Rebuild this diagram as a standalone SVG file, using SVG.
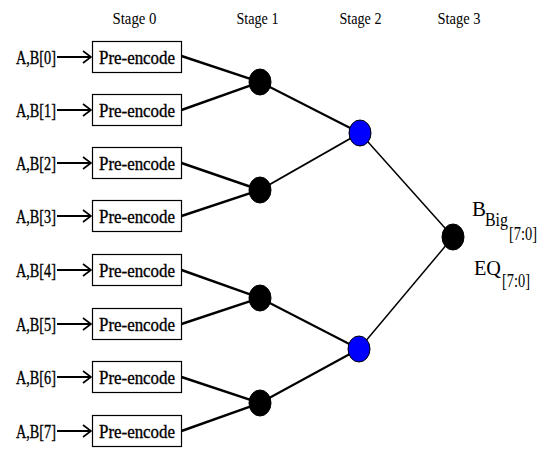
<svg xmlns="http://www.w3.org/2000/svg" width="544" height="449" viewBox="0 0 544 449">
<style>
text{font-family:"Liberation Serif","Times New Roman",serif;fill:#000}
.stage{font-size:17px}
.in{font-size:19px;stroke:#000;stroke-width:0.35}
.pe{font-size:19px;stroke:#000;stroke-width:0.35}
.box{fill:#fff;stroke:#000;stroke-width:1.2}
.w0{stroke:#000;stroke-width:2.4;fill:none}
.w1{stroke:#000;stroke-width:2;fill:none}
.w2{stroke:#000;stroke-width:1.5;fill:none}
.arr{stroke:#000;stroke-width:2.2;fill:none}
.head{stroke:#000;stroke-width:1.6;fill:none;stroke-linejoin:miter}
.blk{fill:#000;stroke:#000;stroke-width:1}
.blu{fill:#0000ff;stroke:#000;stroke-width:1}
.out{font-size:22px}
.sub{font-size:18px}
</style>
<defs>
<g id="inarrow">
<line class="arr" x1="0" y1="0" x2="33" y2="0"/>
<polyline class="head" points="26,-6 34,0 26,6"/>
</g>
</defs>
<rect width="544" height="449" fill="#fff"/>
<g id="stage-labels">
<text class="stage" x="112.5" y="24" textLength="44" lengthAdjust="spacingAndGlyphs">Stage 0</text>
<text class="stage" x="236.5" y="24" textLength="42" lengthAdjust="spacingAndGlyphs">Stage 1</text>
<text class="stage" x="339.5" y="24" textLength="42" lengthAdjust="spacingAndGlyphs">Stage 2</text>
<text class="stage" x="437.5" y="24" textLength="43" lengthAdjust="spacingAndGlyphs">Stage 3</text>
</g>
<g id="connectors">
<line class="w0" x1="181.5" y1="56" x2="260" y2="82"/>
<line class="w0" x1="181.5" y1="110" x2="260" y2="82"/>
<line class="w0" x1="181.5" y1="163" x2="260" y2="190"/>
<line class="w0" x1="181.5" y1="216" x2="260" y2="190"/>
<line class="w0" x1="181.5" y1="270" x2="260" y2="298"/>
<line class="w0" x1="181.5" y1="324" x2="260" y2="298"/>
<line class="w0" x1="181.5" y1="377" x2="260" y2="403"/>
<line class="w0" x1="181.5" y1="431" x2="260" y2="403"/>
<line class="w1" x1="260" y1="82" x2="360" y2="133"/>
<line class="w1" x1="260" y1="190" x2="360" y2="133"/>
<line class="w1" x1="260" y1="298" x2="359" y2="349"/>
<line class="w1" x1="260" y1="403" x2="359" y2="349"/>
<line class="w2" x1="360" y1="133" x2="453" y2="237"/>
<line class="w2" x1="359" y1="349" x2="453" y2="237"/>
<use href="#inarrow" x="57" y="57"/>
<use href="#inarrow" x="57" y="110"/>
<use href="#inarrow" x="57" y="163"/>
<use href="#inarrow" x="57" y="216"/>
<use href="#inarrow" x="57" y="270"/>
<use href="#inarrow" x="57" y="324"/>
<use href="#inarrow" x="57" y="377"/>
<use href="#inarrow" x="57" y="431"/>
</g>
<g id="in0"><text class="in" x="16" y="64" textLength="40" lengthAdjust="spacingAndGlyphs">A,B[0]</text></g>
<g id="in1"><text class="in" x="16" y="117" textLength="40" lengthAdjust="spacingAndGlyphs">A,B[1]</text></g>
<g id="in2"><text class="in" x="16" y="170" textLength="40" lengthAdjust="spacingAndGlyphs">A,B[2]</text></g>
<g id="in3"><text class="in" x="16" y="223" textLength="40" lengthAdjust="spacingAndGlyphs">A,B[3]</text></g>
<g id="in4"><text class="in" x="16" y="277" textLength="40" lengthAdjust="spacingAndGlyphs">A,B[4]</text></g>
<g id="in5"><text class="in" x="16" y="331" textLength="40" lengthAdjust="spacingAndGlyphs">A,B[5]</text></g>
<g id="in6"><text class="in" x="16" y="384" textLength="40" lengthAdjust="spacingAndGlyphs">A,B[6]</text></g>
<g id="in7"><text class="in" x="16" y="438" textLength="40" lengthAdjust="spacingAndGlyphs">A,B[7]</text></g>
<g id="pe0"><rect class="box" x="92.5" y="41.5" width="89" height="31"/><text class="pe" x="99" y="63.5" textLength="76" lengthAdjust="spacingAndGlyphs">Pre-encode</text></g>
<g id="pe1"><rect class="box" x="92.5" y="94.5" width="89" height="31"/><text class="pe" x="99" y="116.5" textLength="76" lengthAdjust="spacingAndGlyphs">Pre-encode</text></g>
<g id="pe2"><rect class="box" x="92.5" y="147.5" width="89" height="31"/><text class="pe" x="99" y="169.5" textLength="76" lengthAdjust="spacingAndGlyphs">Pre-encode</text></g>
<g id="pe3"><rect class="box" x="92.5" y="200.5" width="89" height="31"/><text class="pe" x="99" y="222.5" textLength="76" lengthAdjust="spacingAndGlyphs">Pre-encode</text></g>
<g id="pe4"><rect class="box" x="92.5" y="254.5" width="89" height="31"/><text class="pe" x="99" y="276.5" textLength="76" lengthAdjust="spacingAndGlyphs">Pre-encode</text></g>
<g id="pe5"><rect class="box" x="92.5" y="308.5" width="89" height="31"/><text class="pe" x="99" y="330.5" textLength="76" lengthAdjust="spacingAndGlyphs">Pre-encode</text></g>
<g id="pe6"><rect class="box" x="92.5" y="361.5" width="89" height="31"/><text class="pe" x="99" y="383.5" textLength="76" lengthAdjust="spacingAndGlyphs">Pre-encode</text></g>
<g id="pe7"><rect class="box" x="92.5" y="415.5" width="89" height="31"/><text class="pe" x="99" y="437.5" textLength="76" lengthAdjust="spacingAndGlyphs">Pre-encode</text></g>
<g id="s1a"><ellipse class="blk" cx="260" cy="82" rx="11" ry="13"/></g>
<g id="s1b"><ellipse class="blk" cx="260" cy="190" rx="11" ry="13"/></g>
<g id="s1c"><ellipse class="blk" cx="260" cy="298" rx="11" ry="13"/></g>
<g id="s1d"><ellipse class="blk" cx="260" cy="403" rx="11" ry="13"/></g>
<g id="s2a"><ellipse class="blu" cx="360" cy="133" rx="11" ry="13"/></g>
<g id="s2b"><ellipse class="blu" cx="359" cy="349" rx="11" ry="13"/></g>
<g id="s3"><ellipse class="blk" cx="453" cy="237" rx="11" ry="13"/></g>
<g id="outputs">
<text class="out" x="472" y="216" textLength="14" lengthAdjust="spacingAndGlyphs">B</text>
<text class="sub" x="485" y="226" textLength="23" lengthAdjust="spacingAndGlyphs">Big</text>
<text class="sub" x="509" y="240" textLength="28" lengthAdjust="spacingAndGlyphs">[7:0]</text>
<text class="out" x="474" y="275" textLength="27" lengthAdjust="spacingAndGlyphs">EQ</text>
<text class="sub" x="502" y="287" textLength="28" lengthAdjust="spacingAndGlyphs">[7:0]</text>
</g>
</svg>
